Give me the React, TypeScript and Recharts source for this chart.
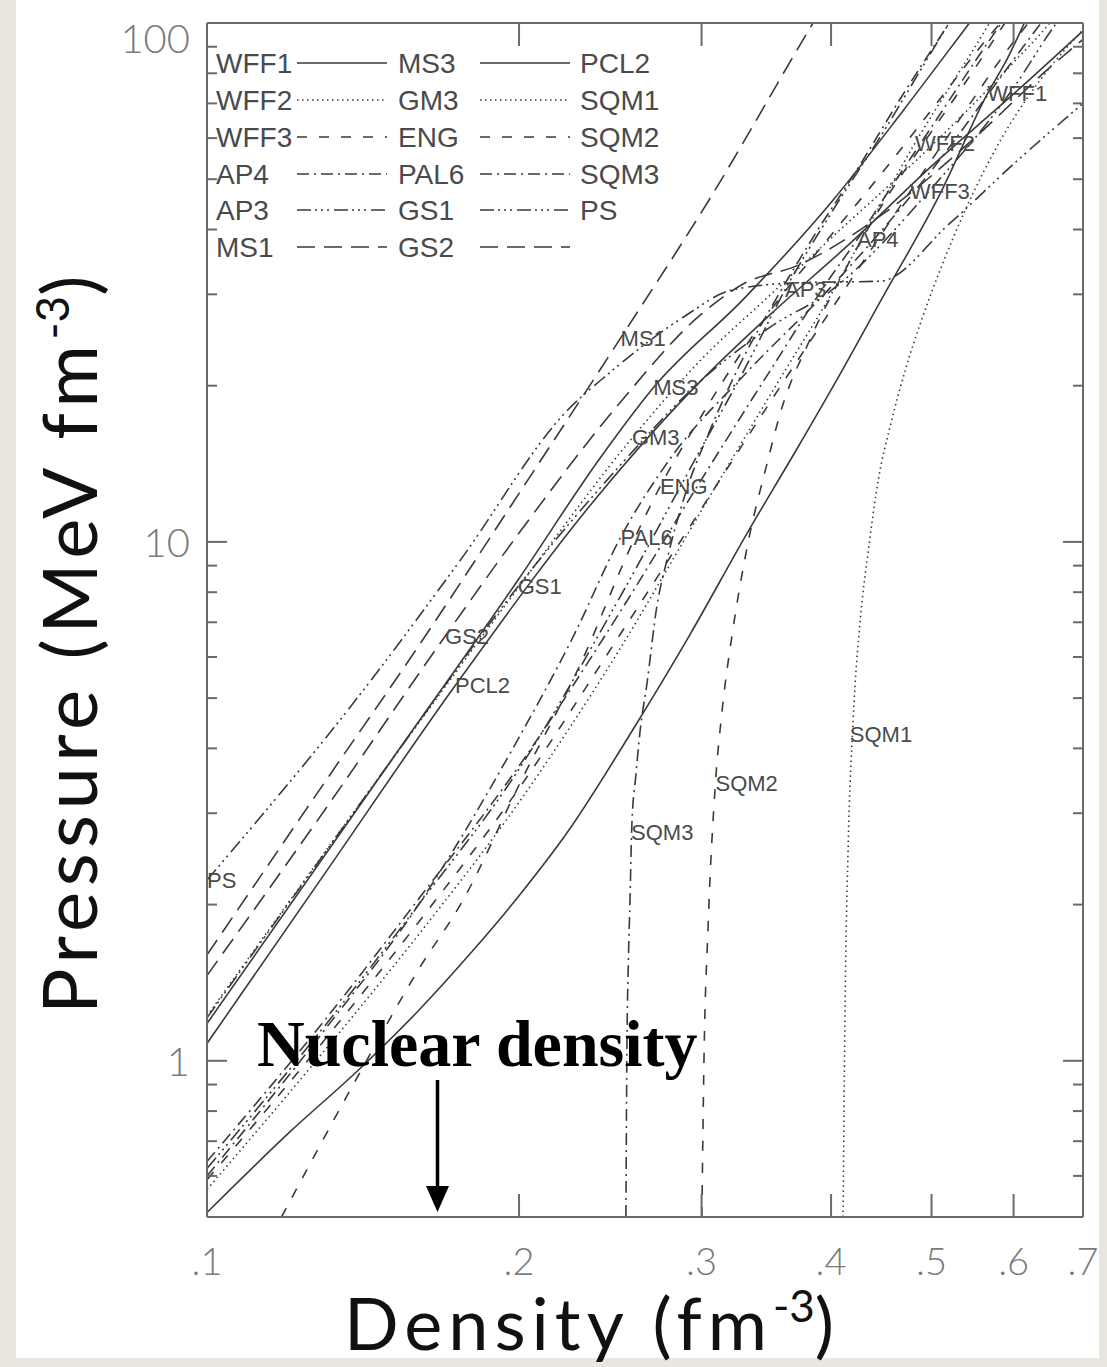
import React from "react";
import { LineChart, Line, XAxis, YAxis, ReferenceDot } from "recharts";

type Pt = [number, number];

// density n (fm^-3), pressure P (MeV fm^-3)
const WFF1: Pt[] = [[0.1, 0.51], [0.12, 0.727], [0.14, 0.96], [0.16, 1.25], [0.18, 1.62], [0.2, 2.08], [0.2225, 2.75], [0.2576, 4.35], [0.292, 6.6], [0.332, 10.4], [0.37, 15], [0.405, 20.5], [0.446, 29], [0.51, 47], [0.566, 73], [0.591, 85], [0.62, 104]];
const WFF2: Pt[] = [[0.1, 0.565], [0.13, 1.05], [0.16, 1.75], [0.2, 3.15], [0.25, 6.2], [0.3, 11.5], [0.35, 19.3], [0.4, 30], [0.45, 46], [0.482, 58.7], [0.52, 75], [0.56, 95], [0.575, 104]];
const WFF3: Pt[] = [[0.1, 0.59], [0.13, 1.1], [0.16, 1.85], [0.2, 3.35], [0.25, 6.6], [0.3, 11.6], [0.35, 18.7], [0.4, 28], [0.4766, 47.3], [0.52, 61], [0.6, 92], [0.63, 104]];
const AP4: Pt[] = [[0.1, 0.64], [0.13, 1.2], [0.16, 2.05], [0.2, 3.7], [0.25, 7.3], [0.3, 13.2], [0.35, 21.5], [0.4, 32.5], [0.4237, 38.2], [0.45, 46], [0.5, 63], [0.55, 84], [0.59, 103]];
const AP3: Pt[] = [[0.1, 0.62], [0.13, 1.17], [0.16, 2.0], [0.2, 3.65], [0.25, 7.8], [0.3, 15.2], [0.33, 21.5], [0.3611, 30.6], [0.4, 43], [0.45, 62], [0.5, 88], [0.52, 100], [0.53, 106]];
const MS1: Pt[] = [[0.1, 1.6], [0.13, 3.45], [0.16, 6.3], [0.2, 12.4], [0.2506, 24.7], [0.3048, 45.5], [0.3843, 100], [0.39, 105]];
const MS3: Pt[] = [[0.1, 1.18], [0.15, 3.75], [0.2, 8.5], [0.2394, 14.5], [0.2694, 19.8], [0.33, 29.5], [0.4015, 45.5], [0.47, 68], [0.541, 98.6], [0.55, 103]];
const GM3: Pt[] = [[0.1, 1.22], [0.15, 3.75], [0.2, 8.2], [0.2574, 15.9], [0.3, 22.5], [0.35, 30], [0.4, 38.5], [0.5, 58], [0.6, 84], [0.65, 100], [0.66, 104]];
const ENG: Pt[] = [[0.118, 0.5], [0.1404, 0.948], [0.16, 1.5], [0.1766, 2.04], [0.2, 3.4], [0.23, 5.9], [0.2576, 10], [0.2735, 12.76], [0.3, 17.5], [0.35, 28], [0.4, 39], [0.45, 52], [0.5, 68], [0.57, 95], [0.59, 103]];
const PAL6: Pt[] = [[0.1, 0.6], [0.13, 1.15], [0.16, 2.0], [0.2, 4.2], [0.225, 6.5], [0.2506, 10.2], [0.28, 14.5], [0.33, 21], [0.4, 31], [0.5, 52], [0.6, 85], [0.64, 101]];
const GS1: Pt[] = [[0.1, 1.21], [0.15, 3.75], [0.1994, 8.19], [0.25, 14], [0.3, 20.5], [0.35, 26], [0.4, 30.5], [0.5, 48], [0.6, 75], [0.66, 100], [0.67, 104]];
const GS2: Pt[] = [[0.1, 1.46], [0.13, 3.05], [0.1697, 6.58], [0.2, 10.4], [0.25, 18.5], [0.3, 27.5], [0.33, 31.5], [0.37, 34], [0.45, 43], [0.55, 60], [0.65, 82], [0.7, 93]];
const PCL2: Pt[] = [[0.1, 1.08], [0.13, 2.3], [0.1735, 5.28], [0.2394, 12.4], [0.3, 20.5], [0.35, 27.5], [0.4172, 37.6], [0.5, 53], [0.6, 73], [0.7, 96.6]];
const SQM1: Pt[] = [[0.4108, 0.5], [0.4127, 1.31], [0.4154, 2.55], [0.4201, 4.54], [0.4268, 7.07], [0.4346, 9.65], [0.4443, 13.2], [0.4565, 16.8], [0.4719, 21.5], [0.4898, 27.0], [0.5096, 33.4], [0.5389, 43.6], [0.583, 59.5], [0.636, 77.5], [0.7, 97]];
const SQM2: Pt[] = [[0.3002, 0.5], [0.3016, 1.0], [0.3043, 1.79], [0.3094, 3.43], [0.3139, 4.7], [0.3216, 6.77], [0.332, 9.78], [0.3471, 14.2], [0.3573, 17.7], [0.3815, 24.5], [0.4125, 33.4], [0.4508, 45.5], [0.4936, 59.5], [0.5386, 76.6], [0.5885, 100], [0.6, 106]];
const SQM3: Pt[] = [[0.2536, 0.5], [0.2541, 1.0], [0.255, 1.565], [0.2559, 2.04], [0.257, 2.87], [0.2593, 3.56], [0.2616, 4.29], [0.2658, 5.35], [0.2716, 7.5], [0.2778, 9.23], [0.2902, 12.6], [0.3056, 16.4], [0.3264, 21.9], [0.3537, 29.3], [0.3855, 39.0], [0.4266, 53.3], [0.466, 71.2], [0.52, 100], [0.53, 106]];
const PS: Pt[] = [[0.1, 2.23], [0.1396, 5.0], [0.1754, 9.2], [0.2225, 17.9], [0.2447, 21.2], [0.288, 27.1], [0.3214, 30.6], [0.374, 31.6], [0.446, 31.8], [0.52, 41], [0.6, 53.5], [0.7, 70]];

// where each curve name is written next to its curve
const LABEL_NAMES = ["WFF1", "WFF2", "WFF3", "AP4", "AP3", "MS1", "MS3", "GM3", "ENG", "PAL6", "GS1", "GS2", "PCL2", "SQM1", "SQM2", "SQM3", "PS"];
const LABEL_N = [0.566, 0.482, 0.4766, 0.4237, 0.3611, 0.2506, 0.2694, 0.257, 0.2735, 0.2506, 0.1994, 0.1697, 0.1735, 0.417, 0.3094, 0.2565, 0.1];
const LABEL_P = [73.1, 58.7, 47.3, 38.2, 30.6, 24.7, 19.8, 15.9, 12.76, 10.2, 8.19, 6.58, 5.28, 4.25, 3.43, 2.76, 2.23];

const X_TICKS = [0.1, 0.2, 0.3, 0.4, 0.5, 0.6, 0.7];
const Y_TICKS = [0.5, 0.6, 0.7, 0.8, 0.9, 1, 2, 3, 4, 5, 6, 7, 8, 9, 10, 20, 30, 40, 50, 60, 70, 80, 90, 100];
const Y_MAJOR = [1, 10, 100];

const SOLID = undefined;
const DOT = "1.5 3.5";
const DASH = "10 12";
const DASHDOT = "12 5 2 5";
const DASH3DOT = "14 4 2 4 2 4 2 5";
const LONG = "18 9";

const SERIES = [
  { name: "WFF1", pts: WFF1, dash: SOLID },
  { name: "WFF2", pts: WFF2, dash: DOT },
  { name: "WFF3", pts: WFF3, dash: DASH },
  { name: "AP4", pts: AP4, dash: DASHDOT },
  { name: "AP3", pts: AP3, dash: DASH3DOT },
  { name: "MS1", pts: MS1, dash: LONG },
  { name: "MS3", pts: MS3, dash: SOLID },
  { name: "GM3", pts: GM3, dash: DOT },
  { name: "ENG", pts: ENG, dash: DASH },
  { name: "PAL6", pts: PAL6, dash: DASHDOT },
  { name: "GS1", pts: GS1, dash: DASH3DOT },
  { name: "GS2", pts: GS2, dash: LONG },
  { name: "PCL2", pts: PCL2, dash: SOLID },
  { name: "SQM1", pts: SQM1, dash: DOT },
  { name: "SQM2", pts: SQM2, dash: DASH },
  { name: "SQM3", pts: SQM3, dash: DASHDOT },
  { name: "PS", pts: PS, dash: DASH3DOT },
];

const INK = "#3a3a3a";
const AXIS = "#6a6a6a";
const TICK_FONT = "Lato, 'Liberation Sans', sans-serif";
const IDL_FONT = "'Liberation Sans', Arial, sans-serif";

const BottomTick = (p: any) => {
  const v = p.payload.value;
  return (
    <g>
      <line x1={p.x} x2={p.x} y1={p.y} y2={p.y - 23} stroke={AXIS} strokeWidth={2} />
      <text x={p.x} y={p.y + 58} textAnchor="middle" fontSize={38} fill="#7a7a7a" fontFamily={TICK_FONT} fontWeight={300}>
        {String(v).replace("0.", ".")}
      </text>
    </g>
  );
};

const TopTick = (p: any) => (
  <line x1={p.x} x2={p.x} y1={p.y} y2={p.y + 23} stroke={AXIS} strokeWidth={2} />
);

const LeftTick = (p: any) => {
  const v = p.payload.value;
  const major = Y_MAJOR.includes(v);
  return (
    <g>
      <line x1={p.x} x2={p.x + (major ? 20 : 10)} y1={p.y} y2={p.y} stroke={AXIS} strokeWidth={2} />
      {major && (
        <text x={p.x - 17} y={p.y + (v === 100 ? 15 : 0)} textAnchor="end" dominantBaseline="central" fontSize={40} fill="#7a7a7a" fontFamily={TICK_FONT} fontWeight={300}>
          {v}
        </text>
      )}
    </g>
  );
};

const RightTick = (p: any) => {
  const major = Y_MAJOR.includes(p.payload.value);
  return <line x1={p.x} x2={p.x - (major ? 20 : 10)} y1={p.y} y2={p.y} stroke={AXIS} strokeWidth={2} />;
};

const LEG_ROWS = [63, 100, 137, 174, 210, 247];
const LEG_COLS = [216, 398, 580];
const LEG_LINES = [[297, 387], [480, 570]];

function Legend() {
  return (
    <g>
      {SERIES.map((s, i) => {
        const col = Math.floor(i / 6);
        const row = i % 6;
        const y = LEG_ROWS[row];
        return (
          <g key={s.name}>
            <text x={LEG_COLS[col]} y={y} dominantBaseline="central" fontSize={28} fill="#4a4a4a" fontFamily={IDL_FONT}>
              {s.name}
            </text>
            {col < 2 && (
              <line x1={LEG_LINES[col][0]} x2={LEG_LINES[col][1]} y1={y} y2={y} stroke={INK} strokeWidth={1.6} strokeDasharray={s.dash} />
            )}
          </g>
        );
      })}
    </g>
  );
}

export default function App() {
  return (
    <div style={{ position: "absolute", left: 0, top: 0, width: 1107, height: 1367, background: "#e9e6e0", overflow: "hidden" }}>
      <div style={{ position: "absolute", left: 16, top: 0, width: 1083, height: 1358, background: "#ffffff" }} />
      <div style={{ position: "absolute", left: 0, top: 0 }}>
        <LineChart width={1107} height={1367} margin={{ top: 22, right: 23, bottom: 149, left: 206 }}>
          <XAxis xAxisId="b" type="number" dataKey="n" scale="log" domain={[0.1, 0.7]} ticks={X_TICKS} interval={0}
            height={1} tickSize={0} tickMargin={0} tickLine={false} tick={<BottomTick />} axisLine={{ stroke: AXIS, strokeWidth: 2 }} allowDataOverflow />
          <XAxis xAxisId="t" orientation="top" type="number" dataKey="n" scale="log" domain={[0.1, 0.7]} ticks={X_TICKS} interval={0}
            height={1} tickSize={0} tickMargin={0} tickLine={false} tick={<TopTick />} axisLine={{ stroke: AXIS, strokeWidth: 2 }} allowDataOverflow />
          <YAxis yAxisId="l" type="number" scale="log" domain={[0.5, 100]} ticks={Y_TICKS} interval={0}
            width={1} tickSize={0} tickMargin={0} tickLine={false} tick={<LeftTick />} axisLine={{ stroke: AXIS, strokeWidth: 2 }} allowDataOverflow />
          <YAxis yAxisId="r" orientation="right" type="number" scale="log" domain={[0.5, 100]} ticks={Y_TICKS} interval={0}
            width={1} tickSize={0} tickMargin={0} tickLine={false} tick={<RightTick />} axisLine={{ stroke: AXIS, strokeWidth: 2 }} allowDataOverflow />
          {SERIES.map((s) => (
            <Line key={s.name} xAxisId="b" yAxisId="l" data={s.pts.map(([n, P]) => ({ n, P }))} dataKey="P" type="monotone"
              stroke={INK} strokeWidth={1.6} strokeDasharray={s.dash} dot={false} activeDot={false} isAnimationActive={false} />
          ))}
          {LABEL_NAMES.map((name, i) => (
            <ReferenceDot key={name} xAxisId="b" yAxisId="l" x={LABEL_N[i]} y={LABEL_P[i]} r={0} ifOverflow="visible"
              shape={(p: any) => (
                <text x={p.cx} y={p.cy} dominantBaseline="central" fontSize={22} fill="#4a4a4a" fontFamily={IDL_FONT}>{name}</text>
              )} />
          ))}
        </LineChart>
      </div>
      <svg width={1107} height={1367} style={{ position: "absolute", left: 0, top: 0, pointerEvents: "none" }}>
        <Legend />
        <text x={257} y={1066} fontSize={66} fontWeight="bold" fontFamily="'Liberation Serif', 'Times New Roman', serif" fill="#000">
          Nuclear density
        </text>
        <line x1={437.5} x2={437.5} y1={1080} y2={1190} stroke="#000" strokeWidth={3.5} />
        <polygon points="426,1186 449,1186 437.5,1212" fill="#000" />
        <text x={592} y={1350} textAnchor="middle" fontSize={72} fontFamily="Lato, sans-serif" fill="#111" letterSpacing={6}>
          Density (fm<tspan fontSize={44} dy={-28} letterSpacing={0}>-3</tspan><tspan dy={28}>)</tspan>
        </text>
        <text transform="translate(97,642) rotate(-90)" x={0} y={0} textAnchor="middle" fontSize={76} fontFamily="Lato, sans-serif" fill="#111" letterSpacing={5.5}>
          Pressure (MeV fm<tspan fontSize={46} dy={-28} letterSpacing={0}>-3</tspan><tspan dy={28}>)</tspan>
        </text>
      </svg>
    </div>
  );
}
